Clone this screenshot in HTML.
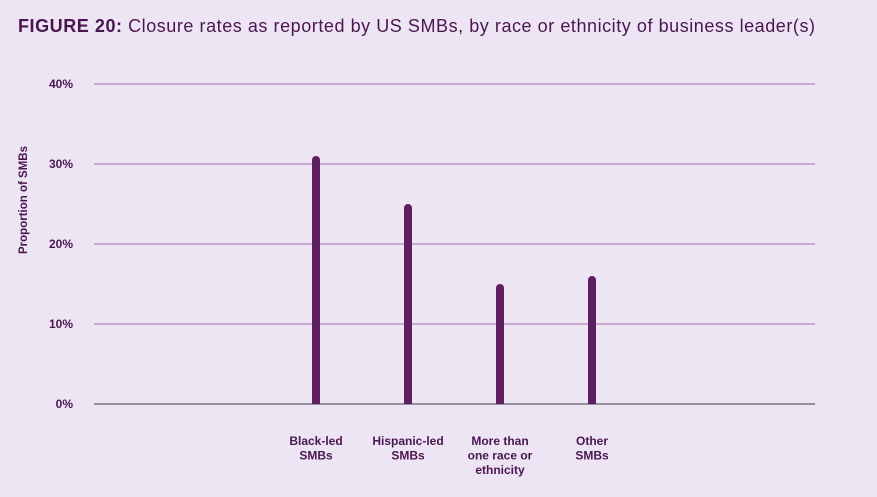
<!DOCTYPE html>
<html><head><meta charset="utf-8"><style>
html,body{margin:0;padding:0;width:877px;height:497px;background:#ede5f3;overflow:hidden;font-family:"Liberation Sans",sans-serif;}
</style></head><body>
<svg width="877" height="497" xmlns="http://www.w3.org/2000/svg">
<text x="18" y="32" font-size="18" fill="#4a1650" textLength="797" lengthAdjust="spacing"><tspan font-weight="bold">FIGURE 20:</tspan> Closure rates as reported by US SMBs, by race or ethnicity of business leader(s)</text>
<text transform="translate(27,200) rotate(-90)" text-anchor="middle" font-size="11.5" font-weight="bold" fill="#4a1650">Proportion of SMBs</text>
<g id="grid"></g><g id="bars"></g><g id="xl"></g>
</svg>
<script>
const categories=[["Black-led","SMBs"],["Hispanic-led","SMBs"],["More than","one race or","ethnicity"],["Other","SMBs"]];
const values=[31,25,15,16];
const ticks=[0,10,20,30,40];
const tickLabels=["0%","10%","20%","30%","40%"];
const NS="http://www.w3.org/2000/svg";
const y=v=>404-v*8;
const x=i=>316+i*92;
function mk(t,a,p){const e=document.createElementNS(NS,t);for(const k in a)e.setAttribute(k,a[k]);p.appendChild(e);return e;}
const g=document.getElementById('grid'),b=document.getElementById('bars'),xl=document.getElementById('xl');
ticks.forEach((t,i)=>{
 const l=mk('line',{x1:94,x2:815,y1:y(t),y2:y(t),stroke:t===0?'#7a7282':'#a46fb0','stroke-width':t===0?1.5:1},g);
 
 
 const tx=mk('text',{x:73,y:y(t)+4,'text-anchor':'end','font-size':12,'font-weight':'bold',fill:'#4a1650'},g);
 tx.textContent=tickLabels[i];
 
 
});
values.forEach((v,i)=>{
 const r=mk('path',{d:`M${x(i)-4},${y(0)} V${y(v)+4} A4,4 0 0 1 ${x(i)+4},${y(v)+4} V${y(0)} Z`,fill:'#5e1f61'},b);
 
 
 categories[i].forEach((s,j)=>{
  const t=mk('text',{x:x(i),y:445+j*14.5,'text-anchor':'middle','font-size':12,'font-weight':'bold',fill:'#4a1650'},xl);
  t.textContent=s;
  
  
 });
});
</script>
</body></html>
